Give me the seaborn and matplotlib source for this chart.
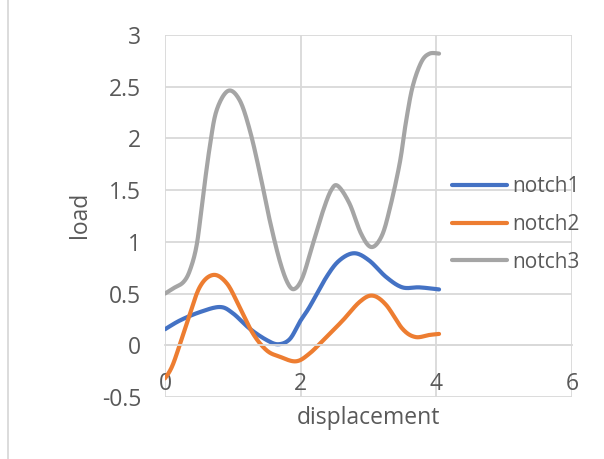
import numpy as np
import pandas as pd
import matplotlib
matplotlib.use("Agg")
import matplotlib.pyplot as plt
import seaborn as sns
from matplotlib.lines import Line2D

# Data
notch1_x = [0.0, 0.22, 0.51, 0.81, 1.00, 1.25, 1.50, 1.67, 1.84, 1.99, 2.13, 2.38, 2.57, 2.79, 3.01, 3.26, 3.50, 3.75, 4.04]
notch1_y = [0.155, 0.24, 0.32, 0.37, 0.31, 0.16, 0.05, 0.01, 0.06, 0.23, 0.37, 0.66, 0.82, 0.89, 0.82, 0.66, 0.56, 0.56, 0.54]
notch2_x = [0.0, 0.12, 0.32, 0.51, 0.71, 0.91, 1.10, 1.30, 1.50, 1.69, 1.93, 2.13, 2.38, 2.62, 2.87, 3.06, 3.26, 3.50, 3.69, 3.90, 4.04]
notch2_y = [-0.32, -0.18, 0.21, 0.56, 0.68, 0.60, 0.37, 0.11, -0.05, -0.11, -0.155, -0.08, 0.08, 0.24, 0.42, 0.48, 0.39, 0.16, 0.08, 0.10, 0.11]
notch3_x = [0.0, 0.12, 0.27, 0.37, 0.47, 0.56, 0.66, 0.76, 0.93, 1.10, 1.25, 1.40, 1.54, 1.69, 1.81, 1.91, 2.03, 2.18, 2.33, 2.45, 2.55, 2.72, 2.89, 3.04, 3.19, 3.31, 3.46, 3.55, 3.65, 3.78, 3.90, 4.04]
notch3_y = [0.50, 0.55, 0.61, 0.73, 0.98, 1.44, 1.92, 2.27, 2.46, 2.37, 2.08, 1.66, 1.22, 0.82, 0.60, 0.545, 0.66, 0.98, 1.30, 1.50, 1.54, 1.37, 1.08, 0.95, 1.05, 1.31, 1.76, 2.15, 2.50, 2.74, 2.82, 2.82]
series_names = ["notch1", "notch2", "notch3"]
colors = ["#4472C4", "#ED7D31", "#A5A5A5"]
x_ticks = [0, 2, 4, 6]
y_ticks = [-0.5, 0, 0.5, 1, 1.5, 2, 2.5, 3]
y_tick_labels = ["-0.5", "0", "0.5", "1", "1.5", "2", "2.5", "3"]


def excel_smooth(xs, ys, n=20):
    P = np.column_stack([xs, ys]).astype(float)
    out = []
    m = len(P)
    for i in range(m - 1):
        p0 = P[i - 1] if i > 0 else P[i]
        p1 = P[i]
        p2 = P[i + 1]
        p3 = P[i + 2] if i + 2 < m else P[i + 1]
        c1 = p1 + (p2 - p0) / 6.0
        c2 = p2 - (p3 - p1) / 6.0
        t = np.linspace(0, 1, n)[:, None]
        seg = ((1 - t) ** 3) * p1 + 3 * ((1 - t) ** 2) * t * c1 + 3 * (1 - t) * t ** 2 * c2 + t ** 3 * p2
        out.append(seg if i == 0 else seg[1:])
    return np.vstack(out)


frames = []
for name, xs, ys in zip(series_names, [notch1_x, notch2_x, notch3_x], [notch1_y, notch2_y, notch3_y]):
    c = excel_smooth(xs, ys)
    frames.append(pd.DataFrame({"displacement": c[:, 0], "load": c[:, 1], "series": name}))
df = pd.concat(frames, ignore_index=True)

sns.set_theme(style="white")
plt.rcParams["font.family"] = ["Open Sans", "DejaVu Sans"]

W, H = 604, 459
fig = plt.figure(figsize=(W / 100, H / 100), dpi=100)
l, r, t, b = 165, 572, 35, 397
ax = fig.add_axes([l / W, 1 - b / H, (r - l) / W, (b - t) / H])

sns.lineplot(data=df, x="displacement", y="load", hue="series", units="series",
             estimator=None, sort=False, palette=colors, linewidth=3, ax=ax,
             legend=False)

ax.set_xlim(0, 6)
ax.set_ylim(-0.5, 3)
ax.set_xticks(x_ticks)
ax.set_yticks(y_ticks)
ax.set_yticklabels(y_tick_labels)
grid_c = "#D9D9D9"
ax.grid(True, color=grid_c, linewidth=1.3)
ax.set_axisbelow(True)
for s in ["top", "right", "left"]:
    ax.spines[s].set_visible(False)
ax.spines["bottom"].set_position(("data", 0))
ax.spines["bottom"].set_color(grid_c)
ax.spines["bottom"].set_linewidth(1.3)
txt_c = "#595959"
ax.tick_params(axis="x", length=0, pad=19, labelsize=16.5, labelcolor=txt_c)
ax.tick_params(axis="y", length=0, pad=17, labelsize=16.5, labelcolor=txt_c)
ax.set_xlabel("displacement", fontsize=16.5, color=txt_c)
ax.set_ylabel("load", fontsize=16.5, color=txt_c)
ax.xaxis.set_label_coords((368 - l) / (r - l), -(418 - b) / (b - t))
ax.yaxis.set_label_coords(-(l - 80) / (r - l), (b - 215) / (b - t))
ax.xaxis.label.set_va("center")
ax.yaxis.label.set_va("center")

handles = [Line2D([0], [0], color=c, lw=3) for c in colors]
leg = fig.legend(handles, series_names, loc="upper left",
                 bbox_to_anchor=(444 / W, 1 - 168 / H), frameon=False,
                 fontsize=15, labelcolor=txt_c, handlelength=2.64,
                 handletextpad=0.24, labelspacing=0.8, borderaxespad=0,
                 borderpad=0.4)

fig.add_artist(Line2D([8 / W, 8 / W], [0, 1], color=grid_c, lw=1.3))

fig.savefig("out.png", dpi=100, facecolor="white")
